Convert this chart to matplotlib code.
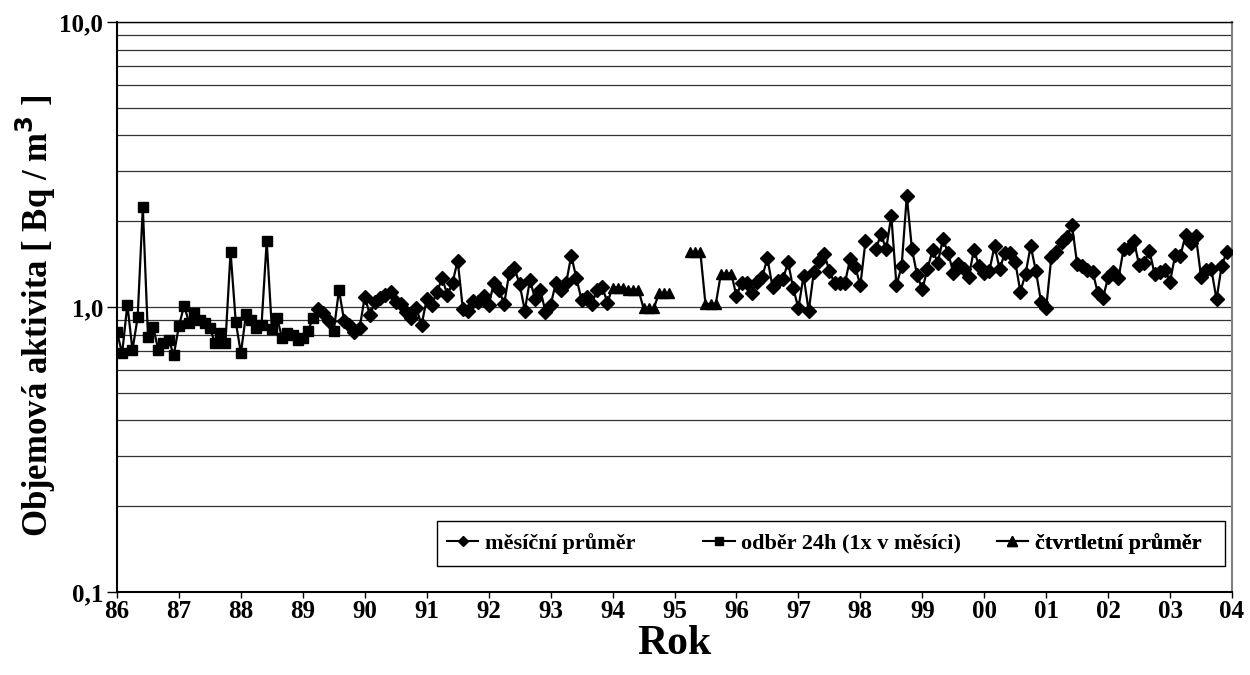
import numpy as np
import matplotlib
matplotlib.use("Agg")
import matplotlib.pyplot as plt
from matplotlib.ticker import FixedLocator, NullFormatter
from matplotlib.patches import Rectangle

plt.rcParams['font.family'] = ['Liberation Serif', 'DejaVu Serif']
plt.rcParams['font.weight'] = 'bold'

# odber 24h (1x v mesici): Jan 1986 - Mar 1989, then Jul - Aug 1989
odber_start = 0
odber = [0.815, 0.688, 1.02, 0.706, 0.92, 2.24, 0.787, 0.853, 0.706, 0.746,
         0.766, 0.679, 0.858, 1.01, 0.877, 0.955, 0.9, 0.877, 0.842, 0.746,
         0.812, 0.746, 1.56, 0.888, 0.688, 0.945, 0.9, 0.846, 0.865, 1.70,
         0.837, 0.917, 0.776, 0.808, 0.798, 0.766, 0.776, 0.826, 0.917,
         None, None, None, 0.826, 1.147]

# mesicni prumer: Apr 1989 - Dec 1993
mesicni_a_start = 39
mesicni_a = [0.98, 0.95, 0.895, None, None,
             0.895, 0.865, 0.819, 0.842, 1.087, 0.937, 1.044, 1.073, 1.102, 1.132,
             1.044, 1.024, 0.963, 0.913, 0.99, 0.865, 1.064, 1.016, 1.132, 1.261,
             1.102, 1.217, 1.454, 0.984, 0.968, 1.052, 1.044, 1.096, 1.016, 1.211,
             1.147, 1.024, 1.319, 1.367, 1.201, 0.971, 1.244, 1.064, 1.147, 0.963,
             1.016, 1.211, 1.147, 1.211, 1.514, 1.261, 1.058, 1.087, 1.024, 1.147,
             1.178, 1.035]

# ctvrtletni prumer: 1994 - 1995 (Q1 1995 chybi)
ctvrtletni_start = 96
ctvrtletni = [1.17, 1.17, 1.17, 1.15, 1.15, 1.15, 0.99, 0.99, 0.99, 1.12, 1.12, 1.12,
              None, None, None, 1.56, 1.56, 1.56, 1.025, 1.025, 1.025, 1.31, 1.31, 1.31]

# mesicni prumer: Jan 1996 - Dec 2003
mesicni_b_start = 120
mesicni_b = [1.093, 1.217, 1.217, 1.117, 1.227, 1.277, 1.482, 1.172, 1.237, 1.251,
             1.435, 1.163, 0.99, 1.285, 0.968, 1.33, 1.454, 1.535, 1.341, 1.211,
             1.211, 1.21, 1.47, 1.385, 1.19, 1.70, None, 1.594, 1.80, 1.594,
             2.09, 1.19, 1.39, 2.45, 1.594, 1.295, 1.154, 1.356, 1.585, 1.43,
             1.728, 1.55, 1.319, 1.415, 1.356, 1.277, 1.585, 1.393, 1.319, 1.341,
             1.637, 1.356, 1.55, 1.55, 1.442, 1.132, 1.305, 1.637, 1.34, 1.044,
             0.99, 1.494, 1.563, 1.695, 1.765, 1.939, 1.415, 1.393, 1.348, 1.33,
             1.122, 1.073, 1.271, 1.33, 1.261, 1.594, 1.607, 1.708, 1.404, 1.43,
             1.576, 1.305, 1.33, 1.348, 1.227, 1.522, 1.51, 1.788, 1.673, 1.775,
             1.277, 1.348, 1.356, 1.064, 1.393, 1.563]

roky = list(range(1986, 2005))
rok_labels = ["%02d" % (r % 100) for r in roky]
legenda = ['měsíční průměr', 'odběr 24h (1x v měsíci)', 'čtvrtletní průměr']


def serie(start, vals):
    x = 1986 + (start + np.arange(len(vals))) / 12.0
    y = np.array([np.nan if v is None else v for v in vals], dtype=float)
    return x, y


x_od, y_od = serie(odber_start, odber)
x_ma, y_ma = serie(mesicni_a_start, mesicni_a)
x_ct, y_ct = serie(ctvrtletni_start, ctvrtletni)
x_mb, y_mb = serie(mesicni_b_start, mesicni_b)

# one connecting line through all series (month by month)
n = 216
line_y = np.full(n, np.nan)
for start, vals in [(odber_start, odber), (mesicni_a_start, mesicni_a),
                    (ctvrtletni_start, ctvrtletni), (mesicni_b_start, mesicni_b)]:
    for i, v in enumerate(vals):
        if v is not None:
            line_y[start + i] = v
line_x = 1986 + np.arange(n) / 12.0

fig = plt.figure(figsize=(12.5, 6.75), dpi=100)
ax = fig.add_axes([0.0936, 0.123, 0.892, 0.8445])

ax.plot(line_x, line_y, color='black', lw=1.6, zorder=3)
ms = 7.4
ax.plot(x_od, y_od, ls='none', marker='s', ms=ms, color='black', zorder=4)
ax.plot(x_ma, y_ma, ls='none', marker='D', ms=ms * 0.95, color='black', zorder=4)
ax.plot(x_mb, y_mb, ls='none', marker='D', ms=ms * 0.95, color='black', zorder=4)
ax.plot(x_ct, y_ct, ls='none', marker='^', ms=ms * 1.05, color='black', zorder=4)

ax.set_yscale('log')
ax.set_ylim(0.1, 10)
ax.set_xlim(1986, 2004)

ax.yaxis.set_major_locator(FixedLocator([0.1, 1, 10]))
ax.set_yticklabels(['0,1', '1,0', '10,0'])
minor = [k * d for d in (0.1, 1) for k in range(2, 10)]
ax.yaxis.set_minor_locator(FixedLocator(minor))
ax.yaxis.set_minor_formatter(NullFormatter())
ax.grid(True, which='both', axis='y', color='#333333', lw=0.9)
ax.set_axisbelow(True)

ax.set_xticks(roky)
ax.set_xticklabels(rok_labels)

ax.tick_params(axis='y', which='major', direction='out', length=7, width=1, labelsize=18, pad=3)
ax.tick_params(axis='y', which='minor', length=0)
ax.tick_params(axis='x', which='major', direction='out', length=4, width=1, labelsize=18, pad=2)
for lab in ax.get_xticklabels() + ax.get_yticklabels():
    lab.set_fontweight('bold')

ax.spines['left'].set_linewidth(1.5)
ax.spines['bottom'].set_linewidth(1.5)
ax.spines['top'].set_linewidth(1)
ax.spines['right'].set_color('#808080')
ax.spines['right'].set_linewidth(1.5)

ax.set_xlabel('Rok', fontsize=30, fontweight='bold', labelpad=1)
ax.set_ylabel('Objemová aktivita [ Bq / m$^\\mathbf{3}$ ]', fontsize=25, fontweight='bold')
ax.yaxis.set_label_coords(-0.053, 0.485)

# legend box with three entries at their own positions
ax.add_patch(Rectangle((0.287, 0.0456), 0.707, 0.079, transform=ax.transAxes,
                       facecolor='white', edgecolor='black', lw=1, zorder=5))
h1, = ax.plot([], [], color='black', lw=1.5, marker='D', ms=5.5)
h2, = ax.plot([], [], color='black', lw=1.5, marker='s', ms=6)
h3, = ax.plot([], [], color='black', lw=1.5, marker='^', ms=6.5)
for h, txt, xpos in zip([h1, h2, h3], legenda, [0.296, 0.526, 0.789]):
    leg = ax.legend([h], [txt], loc='center left', bbox_to_anchor=(xpos, 0.085),
                    frameon=False, handlelength=1.4, handletextpad=0.3,
                    borderaxespad=0, borderpad=0,
                    prop={'family': 'Liberation Serif', 'weight': 'bold', 'size': 16})
    leg.set_zorder(6)
    ax.add_artist(leg)

fig.savefig('out.png', dpi=100)
